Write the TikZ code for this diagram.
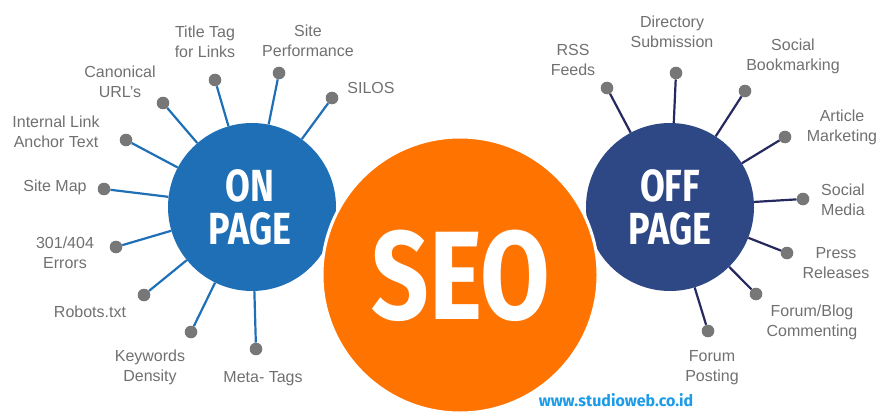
\documentclass[tikz,border=0pt]{standalone}
\usepackage{fontspec}
\setmainfont{Liberation Sans}
\newfontfamily\bigfont[FakeStretch=0.8]{Fira Sans}
\newfontfamily\wmfont{Fira Sans}
\definecolor{onblue}{HTML}{1F6FB7}
\definecolor{offblue}{HTML}{2E4886}
\definecolor{offnavy}{HTML}{25295F}
\definecolor{seoorange}{HTML}{FF7300}
\definecolor{labelgray}{HTML}{707070}
\definecolor{dotgray}{HTML}{777777}
\definecolor{wmblue}{HTML}{1C9BE6}
\begin{document}
\begin{tikzpicture}[x=1pt,y=-1pt,
  lbl/.style={text=labelgray, font=\fontsize{16}{20}\selectfont, align=center, inner sep=0pt},
  dotnode/.style={circle, fill=dotgray, minimum size=12.6pt, inner sep=0pt},
  onlink/.style={draw=onblue, line width=2.2pt},
  offlink/.style={draw=offnavy, line width=2.2pt},
  hub/.style={circle, minimum size=168pt, inner sep=0pt},
  bigtxt/.style={text=white, anchor=base, inner sep=0pt}]
\useasboundingbox (0,0) rectangle (878,412);
\clip (0,0) rectangle (878,412);

% hubs
\node[hub, fill=onblue] (onp) at (252,207) {};
\node[hub, fill=offblue] (offp) at (670,207) {};

% on-page dots
\node[dotnode] (l1) at (215,80) {};
\node[dotnode] (l2) at (279,73) {};
\node[dotnode] (l3) at (332,98) {};
\node[dotnode] (l4) at (163,103) {};
\node[dotnode] (l5) at (126,140) {};
\node[dotnode] (l6) at (104,189) {};
\node[dotnode] (l7) at (116,247) {};
\node[dotnode] (l8) at (144,295) {};
\node[dotnode] (l9) at (191,332) {};
\node[dotnode] (l10) at (256,349) {};
\foreach \i in {1,...,10} \draw[onlink] (onp) -- (l\i);

% off-page dots
\node[dotnode] (r1) at (607,88) {};
\node[dotnode] (r2) at (676,73) {};
\node[dotnode] (r3) at (745,91) {};
\node[dotnode] (r4) at (785,137) {};
\node[dotnode] (r5) at (803,199) {};
\node[dotnode] (r6) at (787,253) {};
\node[dotnode] (r7) at (756,294) {};
\node[dotnode] (r8) at (708,331) {};
\foreach \i in {1,...,8} \draw[offlink] (offp) -- (r\i);

% SEO circle on top
\node[circle, fill=seoorange, draw=white, line width=3pt, minimum size=276pt, inner sep=0pt] (seo) at (460,275) {};

% big texts
\node[bigtxt, font=\bigfont\bfseries\fontsize{45}{45}\selectfont] (ont) at (250,201) {ON};
\node[bigtxt, font=\bigfont\bfseries\fontsize{45}{45}\selectfont] (onpg) at (250,244) {PAGE};
\node[bigtxt, font=\bigfont\bfseries\fontsize{45}{45}\selectfont] (offt) at (670,201) {OFF};
\node[bigtxt, font=\bigfont\bfseries\fontsize{45}{45}\selectfont] (offpg) at (670,244) {PAGE};
\node[bigtxt, font=\bigfont\bfseries\fontsize{126}{126}\selectfont] (seot) at (461,319) {SEO};

% on-page labels
\node[lbl] (t1) at (205,42) {Title Tag\\for Links};
\node[lbl] (t2) at (308,41) {Site\\Performance};
\node[lbl] (t3) at (371,88) {SILOS};
\node[lbl] (t4) at (120,82) {Canonical\\URL’s};
\node[lbl] (t5) at (56,132) {Internal Link\\Anchor Text};
\node[lbl] (t6) at (55,187) {Site Map};
\node[lbl] (t7) at (65,253) {301/404\\Errors};
\node[lbl] (t8) at (90,312) {Robots.txt};
\node[lbl] (t9) at (150,367) {Keywords\\Density};
\node[lbl] (t10) at (263,379) {Meta- Tags};

% off-page labels
\node[lbl] (s1) at (573,60) {RSS\\Feeds};
\node[lbl] (s2) at (672,32) {Directory\\Submission};
\node[lbl] (s3) at (793,56) {Social\\Bookmarking};
\node[lbl] (s4) at (842,127) {Article\\Marketing};
\node[lbl] (s5) at (843,200) {Social\\Media};
\node[lbl] (s6) at (836,263) {Press\\Releases};
\node[lbl] (s7) at (812,322) {Forum/Blog\\Commenting};
\node[lbl] (s8) at (712,368) {Forum\\Posting};

% watermark
\node[anchor=base, inner sep=0pt, text=wmblue, font=\wmfont\bfseries\fontsize{16}{16}\selectfont] (wm) at (616,406) {www.studioweb.co.id};
\end{tikzpicture}
\end{document}
